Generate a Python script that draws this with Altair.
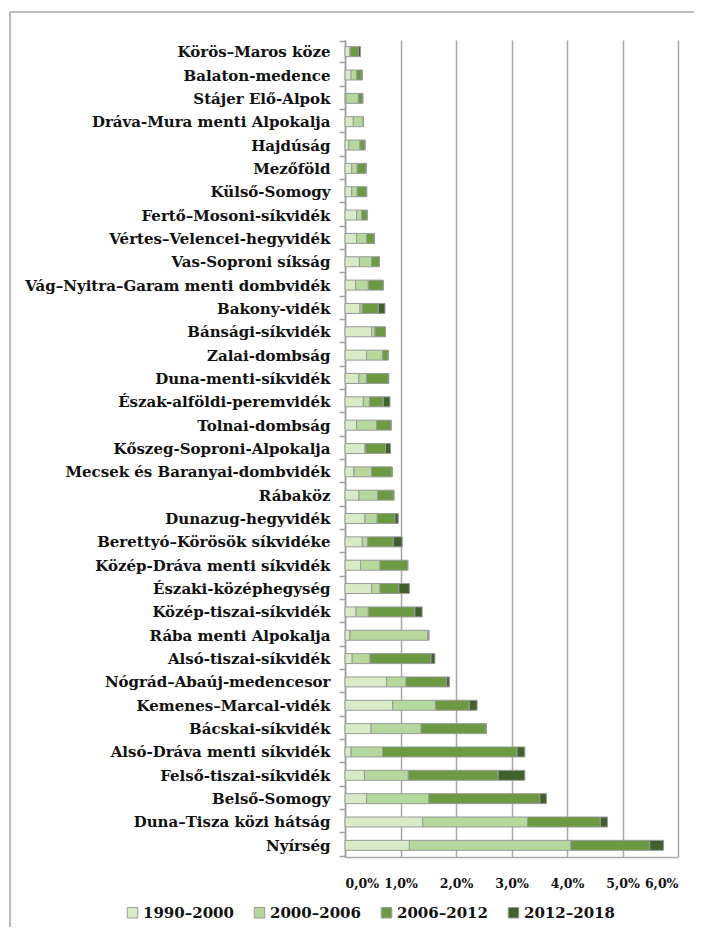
import altair as alt
import pandas as pd

regions = [
    "Körös–Maros köze", "Balaton-medence", "Stájer Elő-Alpok", "Dráva-Mura menti Alpokalja",
    "Hajdúság", "Mezőföld", "Külső-Somogy", "Fertő–Mosoni-síkvidék",
    "Vértes–Velencei-hegyvidék", "Vas-Soproni síkság", "Vág–Nyitra–Garam menti dombvidék",
    "Bakony-vidék", "Bánsági-síkvidék", "Zalai-dombság", "Duna-menti-síkvidék",
    "Észak-alföldi-peremvidék", "Tolnai-dombság", "Kőszeg-Soproni-Alpokalja",
    "Mecsek és Baranyai-dombvidék", "Rábaköz", "Dunazug-hegyvidék",
    "Berettyó–Körösök síkvidéke", "Közép-Dráva menti síkvidék", "Északi-középhegység",
    "Közép-tiszai-síkvidék", "Rába menti Alpokalja", "Alsó-tiszai-síkvidék",
    "Nógrád–Abaúj-medencesor", "Kemenes–Marcal-vidék", "Bácskai-síkvidék",
    "Alsó-Dráva menti síkvidék", "Felső-tiszai-síkvidék", "Belső-Somogy",
    "Duna–Tisza közi hátság", "Nyírség",
]

periods = ["1990–2000", "2000–2006", "2006–2012", "2012–2018"]

p1990_2000 = [0.09, 0.11, 0.02, 0.15, 0.07, 0.12, 0.12, 0.21, 0.21, 0.26, 0.19, 0.27, 0.48, 0.39,
              0.25, 0.33, 0.21, 0.36, 0.16, 0.25, 0.36, 0.31, 0.28, 0.48, 0.20, 0.09, 0.13, 0.75,
              0.86, 0.47, 0.11, 0.35, 0.39, 1.40, 1.16]
p2000_2006 = [0.01, 0.10, 0.22, 0.18, 0.20, 0.10, 0.10, 0.09, 0.18, 0.22, 0.23, 0.04, 0.06, 0.29,
              0.14, 0.11, 0.36, 0.01, 0.32, 0.34, 0.22, 0.10, 0.35, 0.15, 0.22, 1.40, 0.32, 0.35,
              0.77, 0.90, 0.57, 0.79, 1.12, 1.89, 2.91]
p2006_2012 = [0.14, 0.10, 0.08, 0.00, 0.09, 0.16, 0.17, 0.10, 0.14, 0.14, 0.27, 0.29, 0.19, 0.10,
              0.39, 0.25, 0.26, 0.36, 0.37, 0.29, 0.32, 0.46, 0.50, 0.34, 0.84, 0.02, 1.10, 0.73,
              0.61, 1.17, 2.42, 1.62, 2.00, 1.31, 1.42]
p2012_2018 = [0.04, 0.00, 0.00, 0.00, 0.00, 0.00, 0.00, 0.00, 0.00, 0.00, 0.00, 0.12, 0.00, 0.00,
              0.01, 0.12, 0.00, 0.09, 0.00, 0.00, 0.06, 0.16, 0.00, 0.19, 0.13, 0.00, 0.07, 0.05,
              0.14, 0.01, 0.14, 0.48, 0.12, 0.13, 0.25]

colors = ["#d8ebc6", "#b6d89c", "#6c9a43", "#41602c"]
x_ticks = [0, 1, 2, 3, 4, 5, 6]

series = [p1990_2000, p2000_2006, p2006_2012, p2012_2018]
rows = []
for k, (per, vals) in enumerate(zip(periods, series)):
    for r, v in zip(regions, vals):
        rows.append({"region": r, "period": per, "order": k, "value": v})
df = pd.DataFrame(rows)

FONT = "DejaVu Serif"
FS = 15

bars = alt.Chart(df).mark_bar(size=10, stroke="#9a9a9a", strokeWidth=1).encode(
    y=alt.Y("region:N", sort=regions, title=None,
            axis=alt.Axis(tickBand="extent", domainColor="#a0a0a0", domainWidth=1.5,
                          tickColor="#a0a0a0", tickWidth=1.5, tickSize=6, labelPadding=9,
                          labelFont=FONT, labelFontWeight="bold", labelFontSize=FS,
                          labelColor="#111", labelLimit=0, grid=False)),
    x=alt.X("value:Q", stack="zero", title=None,
            scale=alt.Scale(domain=[0, 6], nice=False),
            axis=alt.Axis(values=x_ticks, ticks=False, grid=True, gridColor="#a8a8a8",
                          gridWidth=1.5, domainColor="#a8a8a8", domainWidth=1.5,
                          labelPadding=20, labelFont=FONT, labelFontWeight="bold",
                          labelFontSize=12.5, labelColor="#111", labelOverlap=False,
                          labelExpr="replace(format(datum.value, '.1f'), '.', ',') + '%'")),
    color=alt.Color("period:N", sort=periods,
                    scale=alt.Scale(domain=periods, range=colors),
                    legend=alt.Legend(title=None, orient="none", direction="horizontal",
                                      legendX=-220, legendY=865, symbolType="square",
                                      symbolSize=110, symbolStrokeColor="#9a9a9a",
                                      symbolStrokeWidth=1, labelFont=FONT,
                                      labelFontWeight="bold", labelFontSize=FS,
                                      labelColor="#111", columnPadding=18, labelOffset=3,
                                      labelLimit=0)),
    order=alt.Order("order:Q"),
)

frame = pd.DataFrame({"k": [0]})
left_line = alt.Chart(frame).mark_rule(color="#bdbdbd", strokeWidth=2).encode(
    x=alt.value(-335), y=alt.value(-28), y2=alt.value(900))
top_line = alt.Chart(frame).mark_rule(color="#bdbdbd", strokeWidth=2).encode(
    x=alt.value(-335), x2=alt.value(360), y=alt.value(-28))

chart = alt.layer(left_line, top_line, bars).properties(
    width=333, height=817,
    padding={"left": 337, "right": 16, "top": 32, "bottom": 70},
    autosize="none",
).configure_view(stroke=None)

chart.save("out.html", embed_options={"renderer": "svg", "actions": False})
